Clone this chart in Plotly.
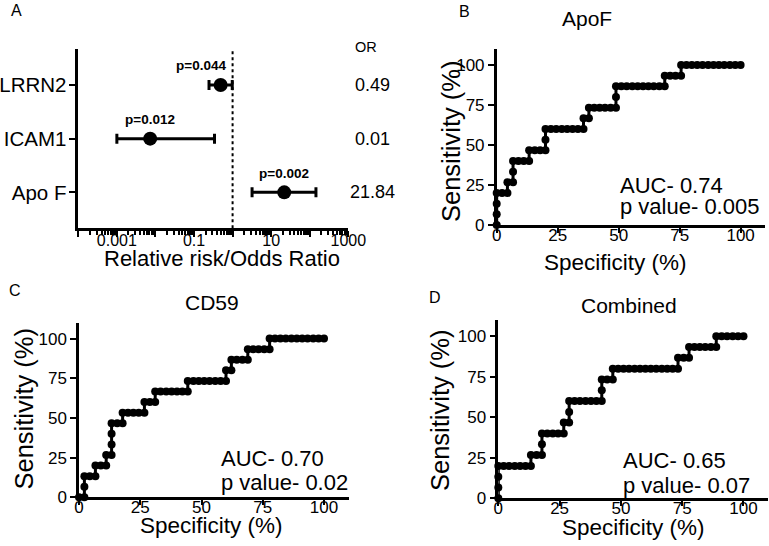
import plotly.graph_objects as go
import math

W, H = 769, 546
FONT = "Liberation Sans, Arial, Helvetica, sans-serif"

# ---------------- Panel A data (forest plot) ----------------
markers = ["LRRN2", "ICAM1", "Apo F"]
or_point = [0.49, 0.0073, 21.84]
ci_low = [0.245, 0.001, 3.2]
ci_high = [0.98, 0.34, 145]
p_text = ["p=0.044", "p=0.012", "p=0.002"]
or_text = ["0.49", "0.01", "21.84"]
x_tick_vals = [1e-4, 1e-3, 1e-2, 1e-1, 1, 10, 100, 1000]
x_tick_text = ["", "0.001", "", "0.1", "", "10", "", "1000"]

# ---------------- ROC data ----------------
apof_spec = [0, 0, 0, 0, 2.2, 4.4, 4.4, 6.7, 6.7, 6.7, 8.9, 11.1, 13.3, 13.3, 15.6, 17.8, 20, 20, 20,
             22.2, 24.4, 26.7, 28.9, 31.1, 33.3, 35.6, 35.6, 37.8, 37.8, 40, 42.2, 44.4, 46.7, 48.9,
             48.9, 48.9, 51.1, 53.3, 55.6, 57.8, 60, 62.2, 64.4, 66.7, 68.9, 68.9, 71.1, 73.3, 75.6,
             75.6, 77.8, 80, 82.2, 84.4, 86.7, 88.9, 91.1, 93.3, 95.6, 97.8, 100]
apof_sens = [0, 6.7, 13.3, 20, 20, 20, 26.7, 26.7, 33.3, 40, 40, 40, 40, 46.7, 46.7, 46.7, 46.7, 53.3, 60,
             60, 60, 60, 60, 60, 60, 60, 66.7, 66.7, 73.3, 73.3, 73.3, 73.3, 73.3, 73.3,
             80, 86.7, 86.7, 86.7, 86.7, 86.7, 86.7, 86.7, 86.7, 86.7, 86.7, 93.3, 93.3, 93.3, 93.3,
             100, 100, 100, 100, 100, 100, 100, 100, 100, 100, 100, 100]

cd59_spec = [0, 2.2, 2.2, 2.2, 4.4, 6.7, 6.7, 8.9, 11.1, 11.1, 13.3, 13.3, 13.3, 13.3, 15.6, 17.8, 17.8,
             20, 22.2, 24.4, 26.7, 26.7, 28.9, 31.1, 31.1, 33.3, 35.6, 37.8, 40, 42.2, 44.4, 44.4,
             46.7, 48.9, 51.1, 53.3, 55.6, 57.8, 60, 60, 62.2, 62.2, 64.4, 66.7, 68.9, 68.9,
             71.1, 73.3, 75.6, 77.8, 77.8, 80, 82.2, 84.4, 86.7, 88.9, 91.1, 93.3, 95.6, 97.8, 100]
cd59_sens = [0, 0, 6.7, 13.3, 13.3, 13.3, 20, 20, 20, 26.7, 26.7, 33.3, 40, 46.7, 46.7, 46.7, 53.3,
             53.3, 53.3, 53.3, 53.3, 60, 60, 60, 66.7, 66.7, 66.7, 66.7, 66.7, 66.7, 66.7, 73.3,
             73.3, 73.3, 73.3, 73.3, 73.3, 73.3, 73.3, 80, 80, 86.7, 86.7, 86.7, 86.7, 93.3,
             93.3, 93.3, 93.3, 93.3, 100, 100, 100, 100, 100, 100, 100, 100, 100, 100, 100]

comb_spec = [0, 0, 0, 0, 2.2, 4.4, 6.7, 8.9, 11.1, 13.3, 13.3, 15.6, 17.8, 17.8, 17.8,
             20, 22.2, 24.4, 26.7, 26.7, 28.9, 28.9, 28.9, 31.1, 33.3, 35.6, 37.8, 40, 42.2,
             42.2, 42.2, 44.4, 46.7, 46.7, 48.9, 51.1, 53.3, 55.6, 57.8, 60, 62.2, 64.4, 66.7,
             68.9, 71.1, 73.3, 73.3, 75.6, 77.8, 77.8, 80, 82.2, 84.4, 86.7, 88.9, 88.9,
             91.1, 93.3, 95.6, 97.8, 100]
comb_sens = [0, 6.7, 13.3, 20, 20, 20, 20, 20, 20, 20, 26.7, 26.7, 26.7, 33.3, 40,
             40, 40, 40, 40, 46.7, 46.7, 53.3, 60, 60, 60, 60, 60, 60, 60,
             66.7, 73.3, 73.3, 73.3, 80, 80, 80, 80, 80, 80, 80, 80, 80, 80,
             80, 80, 80, 86.7, 86.7, 86.7, 93.3, 93.3, 93.3, 93.3, 93.3, 93.3, 100,
             100, 100, 100, 100, 100]

roc_panels = [
    ("ApoF", apof_spec, apof_sens, "AUC- 0.74", "p value- 0.005"),
    ("CD59", cd59_spec, cd59_sens, "AUC- 0.70", "p value- 0.02"),
    ("Combined", comb_spec, comb_sens, "AUC- 0.65", "p value- 0.07"),
]
roc_ticks = [0, 25, 50, 75, 100]


def px(x):
    return x / W


def py(y):
    return 1 - y / H


fig = go.Figure()

# ---------- Panel A ----------
ypos = list(range(len(markers), 0, -1))
fig.add_trace(go.Scatter(
    x=or_point, y=ypos, mode="markers",
    marker=dict(size=14, color="black"),
    error_x=dict(type="data", symmetric=False,
                 array=[h - p for h, p in zip(ci_high, or_point)],
                 arrayminus=[p - l for p, l in zip(or_point, ci_low)],
                 thickness=3, width=5, color="black"),
    xaxis="x", yaxis="y", showlegend=False, cliponaxis=False,
))

# ---------- ROC panels ----------
for i, (name, sx, sy, auc, pv) in enumerate(roc_panels):
    ax = str(i + 2)
    fig.add_trace(go.Scatter(
        x=sx, y=sy, mode="lines+markers",
        line=dict(color="black", width=3),
        marker=dict(size=8, color="black"),
        xaxis="x" + ax, yaxis="y" + ax, showlegend=False, cliponaxis=False,
    ))

axis_common = dict(showgrid=False, zeroline=False, showline=True, linecolor="black",
                   linewidth=2.5, ticks="outside", tickcolor="black", tickwidth=2,
                   color="black", automargin=False)

layout = dict(
    width=W, height=H, margin=dict(l=0, r=0, t=0, b=0, autoexpand=False),
    paper_bgcolor="white", plot_bgcolor="white",
    font=dict(family=FONT, color="black"),
    showlegend=False,
)

# Panel A axes
layout["xaxis"] = dict(axis_common, type="log", domain=[px(78.3), px(348.3)],
                       range=[-4, 3], anchor="y",
                       tickvals=x_tick_vals, ticktext=x_tick_text, ticklen=6,
                       ticklabelstandoff=-10,
                       tickfont=dict(size=16),
                       minor=dict(tickvals=[m * 10 ** e for e in range(-4, 3) for m in range(2, 10)],
                                  ticks="outside", ticklen=4, tickwidth=1.5, tickcolor="black"))
layout["yaxis"] = dict(axis_common, domain=[py(228.3), py(49.3)], range=[0.33, 3.665],
                       anchor="x", tickvals=ypos, ticktext=markers, ticklen=7,
                       ticklabelstandoff=-2, tickfont=dict(size=20.5))

domains = [
    ([px(496.7), px(765)], [py(225), py(49)]),
    ([px(79), px(348.5)], [py(497.3), py(322.7)]),
    ([px(498.3), px(768)], [py(498.3), py(320)]),
]
for i, (dx, dy) in enumerate(domains):
    ax = str(i + 2)
    layout["xaxis" + ax] = dict(axis_common, domain=dx, range=[0, 110], anchor="y" + ax,
                                tickvals=roc_ticks, ticklen=5, ticklabelstandoff=-12,
                                tickfont=dict(size=17))
    layout["yaxis" + ax] = dict(axis_common, domain=dy, range=[0, 110], anchor="x" + ax,
                                tickvals=roc_ticks, ticklen=6, tickfont=dict(size=17))

fig.update_layout(**layout)

# dotted reference line at OR = 1
fig.add_shape(type="line", xref="x", yref="y domain", x0=1, x1=1, y0=0, y1=1,
              line=dict(color="black", width=2, dash="dot"))

ann = []


def txt(x, y, s, size, **kw):
    d = dict(x=px(x), y=py(y), xref="paper", yref="paper", text=s, showarrow=False,
             font=dict(size=size, family=FONT, color="black"), xanchor="center", yanchor="middle")
    d.update(kw)
    ann.append(d)


# panel letters
txt(16, 10, "A", 16)
txt(464, 11, "B", 16)
txt(15, 290, "C", 16)
txt(435, 297, "D", 16)

# Panel A texts
txt(365.5, 47, "OR", 14.5)
y_px_rows = [85, 139, 192.3]
for s, yy in zip(or_text, y_px_rows):
    txt(372, yy, s, 18)
p_xshift = [-20, 0, 0]
for val, yv, s, xs in zip(or_point, ypos, p_text, p_xshift):
    ann.append(dict(x=math.log10(val), y=yv, xref="x", yref="y", text="<b>" + s + "</b>",
                    showarrow=False, yshift=19, xshift=xs,
                    font=dict(size=13.5, family=FONT, color="black"),
                    xanchor="center", yanchor="middle"))
txt(222, 258, "Relative risk/Odds Ratio", 22)

# ROC texts
roc_title_pos = [(587, 19), (211.7, 302), (628.7, 305)]
xtitle_pos = [(615.5, 262), (211, 525), (633, 527)]
ytitle_pos = [(451, 141), (23.5, 409), (440, 410)]
auc_pos = [(618, 185, 206), (219, 458, 482), (621, 460, 485)]
for (name, sx, sy, auc, pv), tp, xp, yp, ap in zip(roc_panels, roc_title_pos, xtitle_pos,
                                                   ytitle_pos, auc_pos):
    txt(tp[0], tp[1], name, 21)
    txt(xp[0], xp[1], "Specificity (%)", 22.5)
    txt(yp[0], yp[1], "Sensitivity (%)", 25.5, textangle=-90)
    txt(ap[0], ap[1], auc, 22)
    ann[-1]["xanchor"] = "left"
    txt(ap[0], ap[2], pv, 22)
    ann[-1]["xanchor"] = "left"

fig.update_layout(annotations=ann)
fig.write_html("out.html", config={"displayModeBar": False},
               post_script="document.body.style.margin='0';document.body.style.overflow='hidden';")
